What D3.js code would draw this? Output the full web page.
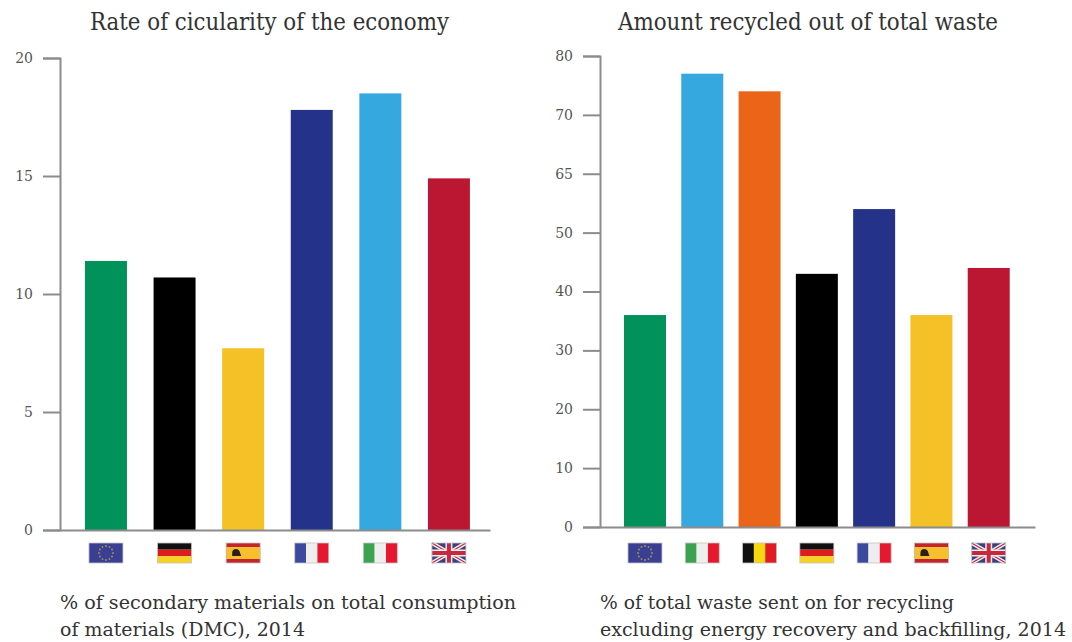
<!DOCTYPE html>
<html>
<head>
<meta charset="utf-8">
<script src="https://cdn.jsdelivr.net/npm/d3@7/dist/d3.min.js"></script>
<style>
    html, body { margin: 0; padding: 0; background: #fff; }
    svg { display: block; }
    text { font-family: "DejaVu Serif", serif; fill: #333; }
    .axis path, .axis line { stroke: #8c8c8c; stroke-width: 2; }
    .axis text { font-size: 14px; fill: #555; }
</style>
</head>
<body>
<div id="chart"></div>
<script>
// circularity rate, % of DMC
var circ_countries = ['eu', 'de', 'es', 'fr', 'it', 'uk'];
var circ_values = [11.4, 10.7, 7.7, 17.8, 18.5, 14.9];
var circ_colors = ['#00925a', '#000000', '#f4c127', '#25328a', '#35a8e0', '#bb1632'];
var circ_ticks = [0, 5, 10, 15, 20];
var circ_tick_labels = ['0', '5', '10', '15', '20'];

// recycled share of total waste
var waste_countries = ['eu', 'it', 'be', 'de', 'fr', 'es', 'uk'];
var waste_values = [36, 77, 74, 43, 54, 36, 44];
var waste_colors = ['#00925a', '#35a8e0', '#ea6518', '#000000', '#25328a', '#f4c127', '#bb1632'];
var waste_ticks = [0, 10, 20, 30, 40, 50, 60, 70, 80];
var waste_tick_labels = ['0', '10', '20', '30', '40', '50', '65', '70', '80']; // 60 is printed as 65 on the axis

var width = 1072;
var height = 642;

var svg = d3.select("#chart").append("svg")
    .attr("width", width)
    .attr("height", height);

function drawFlag(g, code) {
    var w = 34, h = 20;
    var f = g.append("g").attr("transform", "translate(" + (-w / 2) + ",0)");

    function band(x, y, bw, bh, color) {
        f.append("rect").attr("x", x).attr("y", y).attr("width", bw).attr("height", bh).attr("fill", color);
    }

    if (code == 'eu') {
        band(0, 0, w, h, '#3a3f94');
        d3.range(12).forEach(function(i) {
            var a = i / 12 * 2 * Math.PI;
            f.append("circle")
                .attr("cx", w / 2 + Math.cos(a) * 7)
                .attr("cy", h / 2 + Math.sin(a) * 7)
                .attr("r", 0.9)
                .attr("fill", '#a89a45');
        });
    }
    else if (code == 'de') {
        band(0, 0, w, h / 3, '#111');
        band(0, h / 3, w, h / 3, '#dd1c1c');
        band(0, h * 2 / 3, w, h / 3, '#f6d320');
    }
    else if (code == 'es') {
        band(0, 0, w, h, '#c4242c');
        band(0, 4, w, 12, '#f5c02c');
        f.append("path")
            .attr("d", "M6,13 L6,10 Q6,6 10,6 Q13,6 14,10 L15,13 Z")
            .attr("fill", '#2b2018');
    }
    else if (code == 'fr') {
        band(0, 0, w / 3, h, '#3b4a9f');
        band(w / 3, 0, w / 3, h, '#eeeeee');
        band(w * 2 / 3, 0, w / 3, h, '#e5182f');
    }
    else if (code == 'it') {
        band(0, 0, w / 3, h, '#3da24f');
        band(w / 3, 0, w / 3, h, '#eeeeee');
        band(w * 2 / 3, 0, w / 3, h, '#e5182f');
    }
    else if (code == 'be') {
        band(0, 0, w / 3, h, '#111');
        band(w / 3, 0, w / 3, h, '#f6d80f');
        band(w * 2 / 3, 0, w / 3, h, '#e01b24');
    }
    else if (code == 'uk') {
        band(0, 0, w, h, '#3a3f80');
        f.append("path")
            .attr("d", "M0,0 L" + w + "," + h + " M" + w + ",0 L0," + h)
            .attr("stroke", '#eee').attr("stroke-width", 4);
        f.append("path")
            .attr("d", "M0,0 L" + w + "," + h + " M" + w + ",0 L0," + h)
            .attr("stroke", '#c8283c').attr("stroke-width", 1.2);
        band(w / 2 - 3.5, 0, 7, h, '#eee');
        band(0, h / 2 - 3.5, w, 7, '#eee');
        band(w / 2 - 2, 0, 4, h, '#c8283c');
        band(0, h / 2 - 2, w, 4, '#c8283c');
    }

    // thin grey edge round the flag
    f.append("rect")
        .attr("width", w)
        .attr("height", h)
        .attr("fill", "none")
        .attr("stroke", "#c4c4c4")
        .attr("stroke-width", 0.8);
}

function drawPanel(p) {
    var y = d3.scaleLinear().domain(p.domain).range([p.bottom, p.top]);
    var x = d3.scaleBand()
        .domain(p.countries)
        .range(p.bandRange)
        .paddingInner(p.paddingInner)
        .paddingOuter(0.3);

    // bars
    svg.append("g").selectAll("rect")
        .data(p.values)
        .enter()
        .append("rect")
        .attr("x", function(d, i) { return x(p.countries[i]); })
        .attr("y", function(d) { return y(d); })
        .attr("width", x.bandwidth())
        .attr("height", function(d) { return p.bottom - y(d); })
        .attr("fill", function(d, i) { return p.colors[i]; });

    // y axis
    var yAxis = d3.axisLeft(y)
        .tickValues(p.ticks)
        .tickSize(17)
        .tickSizeOuter(17)
        .tickPadding(10)
        .tickFormat(function(d, i) { return p.tickLabels[i]; });
    svg.append("g")
        .attr("class", "axis")
        .attr("transform", "translate(" + p.axisX + ",0)")
        .call(yAxis);

    // baseline
    var xAxis = d3.axisBottom(d3.scaleLinear().range([p.axisX, p.axisEnd]))
        .tickValues([])
        .tickSize(0);
    svg.append("g")
        .attr("class", "axis")
        .attr("transform", "translate(0," + p.bottom + ")")
        .call(xAxis);

    // flags under the bars
    p.countries.forEach(function(c) {
        var g = svg.append("g")
            .attr("transform", "translate(" + (x(c) + x.bandwidth() / 2) + ",543)");
        drawFlag(g, c);
    });

    // title
    svg.append("text")
        .attr("x", p.titleX)
        .attr("y", 30)
        .attr("font-size", 24)
        .attr("textLength", p.titleLen)
        .attr("lengthAdjust", "spacingAndGlyphs")
        .text(p.title);

    // caption
    p.caption.forEach(function(line, i) {
        svg.append("text")
            .attr("x", p.captionX)
            .attr("y", i == 0 ? 609 : 636)
            .attr("font-size", 18)
            .attr("textLength", p.captionLen[i])
            .attr("lengthAdjust", "spacingAndGlyphs")
            .text(line);
    });
}

drawPanel({
    countries: circ_countries,
    values: circ_values,
    colors: circ_colors,
    ticks: circ_ticks,
    tickLabels: circ_tick_labels,
    domain: [0, 20],
    top: 58,
    bottom: 530,
    axisX: 60,
    axisEnd: 490,
    bandRange: [64.4, 490.5],
    paddingInner: 0.388,
    title: "Rate of cicularity of the economy",
    titleX: 90,
    titleLen: 359,
    caption: ["% of secondary materials on total consumption", "of materials (DMC), 2014"],
    captionX: 60,
    captionLen: [456, 245]
});

drawPanel({
    countries: waste_countries,
    values: waste_values,
    colors: waste_colors,
    ticks: waste_ticks,
    tickLabels: waste_tick_labels,
    domain: [0, 80],
    top: 56,
    bottom: 527,
    axisX: 600,
    axisEnd: 1035,
    bandRange: [606.8, 1026.9],
    paddingInner: 0.267,
    title: "Amount recycled out of total waste",
    titleX: 618,
    titleLen: 380,
    caption: ["% of total waste sent on for recycling", "excluding energy recovery and backfilling, 2014"],
    captionX: 600,
    captionLen: [354, 466]
});
</script>
</body>
</html>
